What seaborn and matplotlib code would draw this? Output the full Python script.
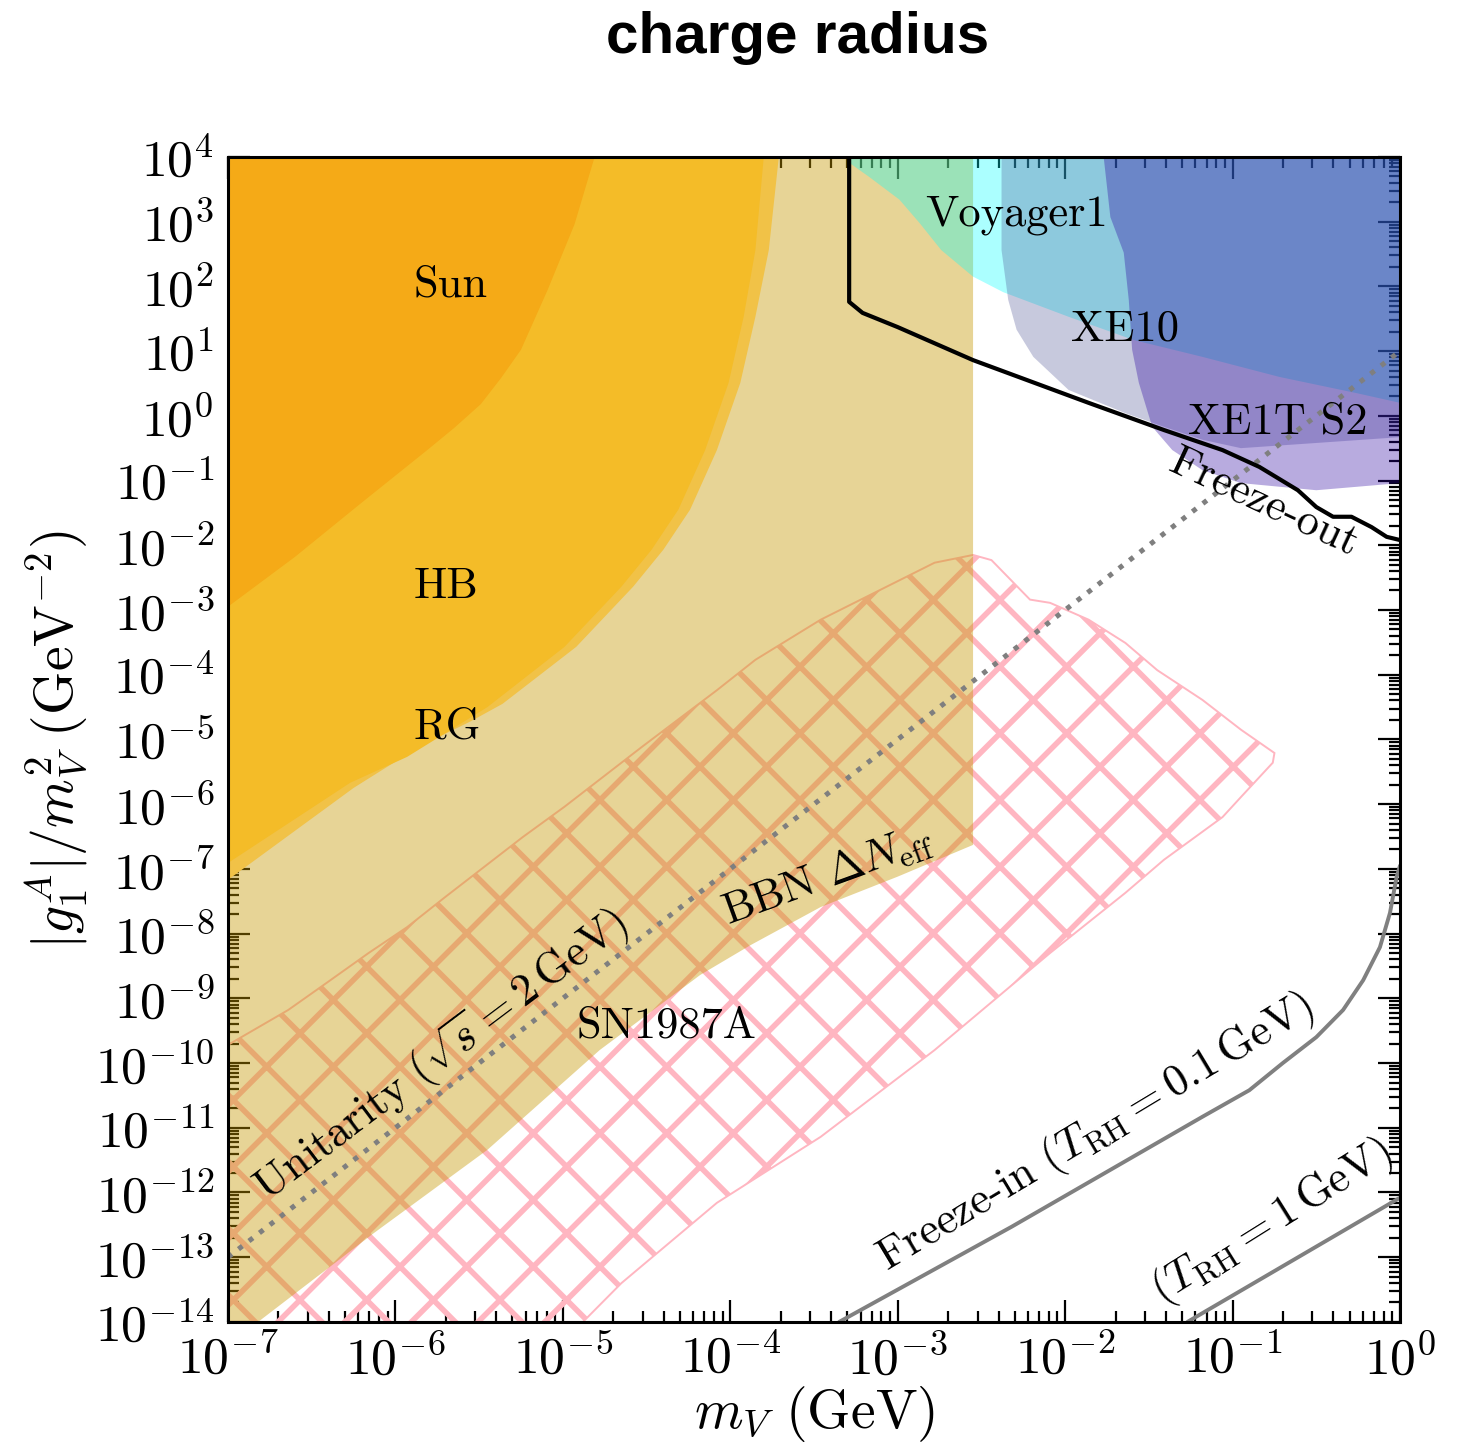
import numpy as np
import pandas as pd
import matplotlib
matplotlib.use("Agg")
import matplotlib.pyplot as plt
import seaborn as sns
from matplotlib.ticker import LogLocator, FuncFormatter, NullFormatter

# ---- limits, stored as log10(m_V/GeV) and log10(|g1^A|/m_V^2 / GeV^-2) ----
sun_lx = [-7.0, -4.81, -4.93, -5.09, -5.25, -5.37, -5.49, -5.65, -5.81, -6.21,
          -6.60, -7.0]
sun_ly = [4.0, 4.0, 2.96, 1.95, 1.02, 0.58, 0.18, -0.19, -0.53, -1.36,
          -2.18, -2.95]

hb_lx = [-7.0, -3.80, -3.85, -3.92, -4.01, -4.15, -4.31, -4.47, -4.65, -4.99,
         -5.45, -5.93, -6.27, -7.0]
hb_ly = [4.0, 4.0, 2.56, 1.53, 0.51, -0.53, -1.45, -2.07, -2.64, -3.57,
         -4.50, -5.27, -5.67, -6.91]

rg_lx = [-7.0, -3.71, -3.77, -3.85, -3.94, -4.08, -4.24, -4.40, -4.58, -4.92,
         -5.36, -5.55, -5.85, -6.25, -7.0]
rg_ly = [4.0, 4.0, 2.56, 1.53, 0.51, -0.53, -1.45, -2.07, -2.64, -3.57,
         -4.45, -4.72, -5.10, -5.75, -7.17]

bbn_lx = [-7.0, -2.55, -2.55, -3.00, -3.46, -3.88, -4.18, -4.78, -5.45, -6.13,
          -6.82, -7.0]
bbn_ly = [4.0, 4.0, -6.63, -7.12, -7.59, -8.18, -8.64, -9.80, -11.34, -12.63,
          -14.0, -14.0]

sn_lx = [-7.0, -6.64, -6.41, -6.16, -5.93, -5.70, -5.47, -5.24, -4.99, -4.76,
         -4.53, -4.08, -3.85, -3.46, -2.78, -2.55, -2.44, -2.21, -2.09, -1.86,
         -1.64, -1.45, -1.18, -0.95, -0.75, -0.76, -0.95, -1.06, -1.41, -1.64,
         -2.09, -2.78, -3.46, -4.08, -4.65, -4.88, -7.0]
sn_ly = [-9.72, -9.18, -8.76, -8.30, -7.90, -7.43, -6.97, -6.51, -6.04, -5.58,
         -5.12, -4.24, -3.77, -3.15, -2.27, -2.15, -2.23, -2.84, -2.89, -3.15,
         -3.51, -3.93, -4.39, -4.85, -5.21, -5.36, -5.89, -6.20, -6.86, -7.37,
         -8.30, -9.80, -11.14, -12.16, -13.40, -14.0, -14.0]

voy_lx = [-3.29, 0.0, 0.0, -0.26, -0.72, -1.18, -1.59, -1.98, -2.37, -2.55,
          -2.74, -2.87, -2.99, -3.17, -3.29]
voy_ly = [4.0, 4.0, 0.20, 0.35, 0.60, 0.91, 1.17, 1.53, 1.91, 2.15,
          2.56, 2.98, 3.34, 3.69, 3.91]

xe10_lx = [-2.38, 0.0, 0.0, -0.50, -0.95, -1.18, -1.41, -1.64, -1.98, -2.19,
           -2.29, -2.34, -2.38]
xe10_ly = [4.0, 4.0, -0.33, -0.42, -0.50, -0.37, -0.17, 0.04, 0.40, 0.91,
           1.33, 1.79, 2.56]

xe1t_lx = [-1.77, 0.0, 0.0, -0.50, -0.95, -1.18, -1.36, -1.48, -1.56, -1.60,
           -1.62, -1.65, -1.73]
xe1t_ly = [4.0, 4.0, -1.04, -1.15, -1.04, -0.84, -0.53, -0.17, 0.51, 1.02,
           1.79, 2.52, 3.07]

fo_lx = [-3.29, -3.29, -3.21, -3.00, -2.55, -1.86, -1.41, -1.06, -0.84, -0.61,
         -0.50, -0.40, -0.29, -0.17, -0.08, 0.0]
fo_ly = [4.0, 1.76, 1.59, 1.37, 0.86, 0.20, -0.22, -0.53, -0.79, -1.15,
         -1.41, -1.56, -1.56, -1.72, -1.87, -1.92]

unit_lx = [-7.0, 0.0]
unit_ly = [-13.0, 1.0]

fi01_lx = [-3.35, -2.32, -1.18, -0.90, -0.70, -0.50, -0.34, -0.22, -0.12,
           -0.06, -0.02, 0.0]
fi01_ly = [-14.0, -12.53, -10.83, -10.42, -10.00, -9.60, -9.18, -8.72, -8.21,
           -7.68, -7.12, -6.95]

fi1_lx = [-1.27, 0.0]
fi1_ly = [-14.0, -12.08]

# ---- style ----
sns.set_theme(style="ticks")
plt.rcParams.update({
    "font.family": ["cmr10", "DejaVu Serif"],
    "mathtext.fontset": "cm",
    "axes.formatter.use_mathtext": True,
    "hatch.linewidth": 1.0,
    "axes.linewidth": 0.55,
    "axes.edgecolor": "black",
    "text.color": "black",
    "axes.labelcolor": "black",
    "xtick.color": "black",
    "ytick.color": "black",
})

fig = plt.figure(figsize=(1466 / 400, 1446 / 400), dpi=400)
ax = fig.add_axes([0.1555, 0.0858, 0.7995, 0.8057])
ax.set_xscale("log")
ax.set_yscale("log")


def p(a):
    return 10.0 ** np.asarray(a)


# SN1987A (hatched), under the BBN band
ax.fill(p(sn_lx), p(sn_ly), facecolor="none", edgecolor="#FFB6C1",
        hatch="xx", linewidth=0.35, zorder=1.0)
# BBN Delta N_eff
ax.fill(p(bbn_lx), p(bbn_ly), facecolor=(199 / 255, 152 / 255, 0.0), alpha=0.41,
        linewidth=0, zorder=1.1)
# stellar cooling
ax.fill(p(rg_lx), p(rg_ly), facecolor="#F1C247", linewidth=0, zorder=1.2)
ax.fill(p(hb_lx), p(hb_ly), facecolor="#F4BC28", linewidth=0, zorder=1.3)
ax.fill(p(sun_lx), p(sun_ly), facecolor="#F5AA17", linewidth=0, zorder=1.4)
# cosmic rays / direct detection
ax.fill(p(voy_lx), p(voy_ly), facecolor="cyan", alpha=0.33, linewidth=0,
        zorder=1.2)
ax.fill(p(xe10_lx), p(xe10_ly), facecolor=(77 / 255, 81 / 255, 148 / 255),
        alpha=0.31, linewidth=0, zorder=1.3)
ax.fill(p(xe1t_lx), p(xe1t_ly), facecolor=(40 / 255, 0.0, 160 / 255),
        alpha=0.33, linewidth=0, zorder=1.4)

lines = pd.concat([
    pd.DataFrame({"m": p(fo_lx), "g": p(fo_ly), "curve": "freeze-out"}),
    pd.DataFrame({"m": p(unit_lx), "g": p(unit_ly), "curve": "unitarity"}),
    pd.DataFrame({"m": p(fi01_lx), "g": p(fi01_ly), "curve": "fi01"}),
    pd.DataFrame({"m": p(fi1_lx), "g": p(fi1_ly), "curve": "fi1"}),
])
sns.lineplot(data=lines[lines.curve == "freeze-out"], x="m", y="g", sort=False,
             estimator=None, color="black", linewidth=0.75, ax=ax, zorder=2.2)
sns.lineplot(data=lines[lines.curve == "unitarity"], x="m", y="g", sort=False,
             estimator=None, color="#7F7F7F", linewidth=0.9, linestyle=":",
             ax=ax, zorder=2.1)
for key in ("fi01", "fi1"):
    sns.lineplot(data=lines[lines.curve == key], x="m", y="g", sort=False,
                 estimator=None, color="#808080", linewidth=0.7, ax=ax,
                 zorder=2.1)

ax.set_xlim(1e-7, 1.0)
ax.set_ylim(1e-14, 1e4)

# ---- labels inside the plot ----
lab = dict(fontsize=8, color="black", zorder=3, ha="center", va="center",
           rotation_mode="anchor")
ax.text(10 ** -5.67, 10 ** 2.02, "Sun", **lab)
ax.text(10 ** -5.70, 10 ** -2.64, "HB", **lab)
ax.text(10 ** -5.69, 10 ** -4.81, "RG", **lab)
ax.text(10 ** -2.29, 10 ** 3.10, "Voyager1", **lab)
ax.text(10 ** -1.64, 10 ** 1.33, "XE10", **lab)
ax.text(10 ** -0.73, 10 ** -0.11, "XE1T S2", **lab)
ax.text(10 ** -0.81, 10 ** -1.35, "Freeze-out", rotation=-25, **lab)
ax.text(10 ** -3.42, 10 ** -7.09, r"BBN $\Delta N_{\rm eff}$", rotation=20, **lab)
ax.text(10 ** -4.38, 10 ** -9.44, "SN1987A", **lab)
ax.text(10 ** -5.73, 10 ** -9.88, r"Unitarity $(\sqrt{s}=2\,\mathrm{GeV})$",
        rotation=37, **lab)
ax.text(10 ** -1.82, 10 ** -11.08,
        r"Freeze-in $(T_{\rm RH}=0.1\,\mathrm{GeV})$", rotation=31, **lab)
ax.text(10 ** -0.765, 10 ** -12.46, r"$(T_{\rm RH}=1\,\mathrm{GeV})$",
        rotation=32, **lab)

# ---- axes ----
fmt = FuncFormatter(lambda v, pos: r"$10^{%d}$" % int(np.round(np.log10(v))))
ax.xaxis.set_major_locator(LogLocator(base=10, numticks=40))
ax.yaxis.set_major_locator(LogLocator(base=10, numticks=40))
ax.xaxis.set_minor_locator(LogLocator(base=10, subs=np.arange(2, 10), numticks=40))
ax.yaxis.set_minor_locator(LogLocator(base=10, subs=np.arange(2, 10), numticks=40))
ax.xaxis.set_major_formatter(fmt)
ax.yaxis.set_major_formatter(fmt)
ax.xaxis.set_minor_formatter(NullFormatter())
ax.yaxis.set_minor_formatter(NullFormatter())
ax.tick_params(which="both", direction="in", top=True, right=True, width=0.4)
ax.tick_params(which="major", length=4.0, labelsize=9.3)
ax.tick_params(which="minor", length=2.0)
ax.tick_params(axis="x", pad=2.2)
ax.tick_params(axis="y", pad=2.5)
for s in ax.spines.values():
    s.set_linewidth(0.55)
    s.set_visible(True)

ax.set_xlabel(r"$m_V\ (\mathrm{GeV})$", fontsize=10)
ax.set_ylabel(r"$|g_1^A|/m_V^2\ (\mathrm{GeV}^{-2})$", fontsize=10)
ax.xaxis.set_label_coords(0.5, -0.053)
ax.yaxis.set_label_coords(-0.118, 0.5)

fig.text(0.5437, 0.974, "charge radius", family="Liberation Sans",
         weight="bold", fontsize=10.5, color="black", ha="center", va="center")

fig.savefig("out.png", dpi=400)
